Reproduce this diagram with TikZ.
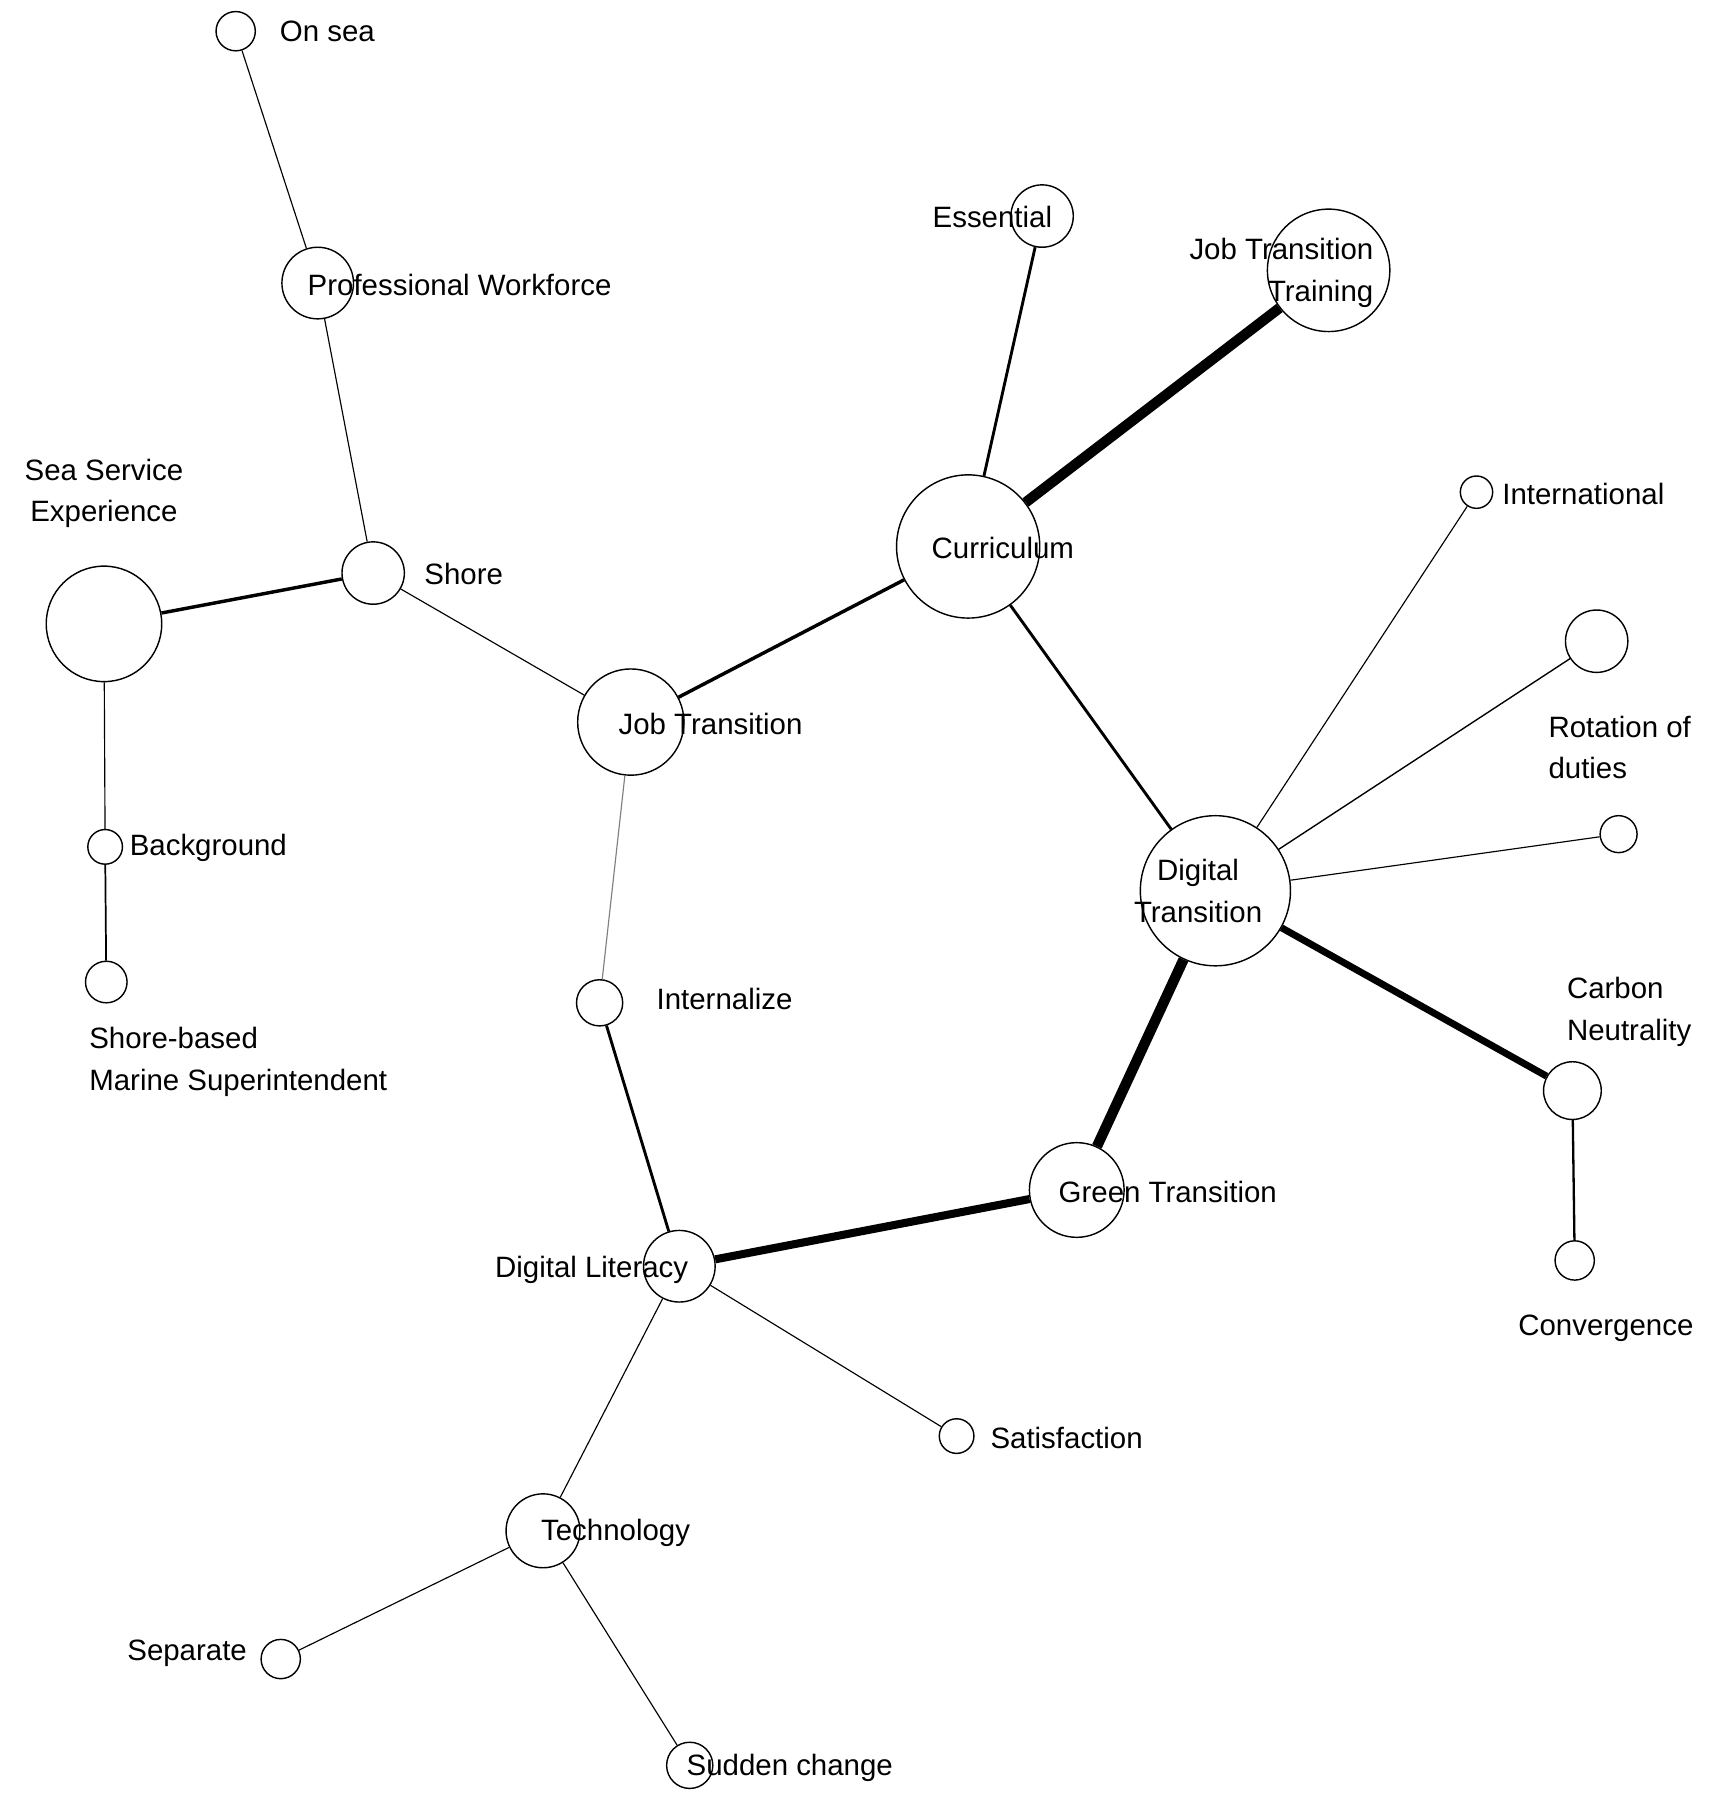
\documentclass[tikz,border=0pt]{standalone}
\usepackage{fontspec}
\setmainfont{Liberation Sans}
\begin{document}
\begin{tikzpicture}[x=0.02cm,y=-0.02cm,
  c/.style={circle,draw,line width=0.7pt,fill=white,inner sep=0pt,minimum size=#1*0.04cm},
  t/.style={inner sep=0pt,font=\fontsize{14.5}{20.5}\selectfont,align=left},
  e/.style={line width=#1*0.567pt}]
\useasboundingbox (0,0) rectangle (1500,1571);
% circles
\node[c=17] (onsea) at (204,27) {};
\node[c=31] (pw) at (275,245) {};
\node[c=50] (sse) at (90,540) {};
\node[c=27] (shore) at (323,496) {};
\node[c=15] (bg) at (91,733) {};
\node[c=18] (sb) at (92,850) {};
\node[c=46] (jt) at (546,625) {};
\node[c=62] (cur) at (838,473) {};
\node[c=27] (ess) at (902,187) {};
\node[c=53] (jtt) at (1150,234) {};
\node[c=14] (intl) at (1278,426) {};
\node[c=27] (rot) at (1382,555) {};
\node[c=16] (sm) at (1401,722) {};
\node[c=65] (dt) at (1052,771) {};
\node[c=25] (cn) at (1361,944) {};
\node[c=17] (conv) at (1363,1091) {};
\node[c=20] (int) at (519,868) {};
\node[c=41] (gt) at (932,1030) {};
\node[c=31] (dl) at (588,1096) {};
\node[c=15] (sat) at (828,1243) {};
\node[c=32] (tech) at (470,1325) {};
\node[c=17] (sep) at (243,1436) {};
\node[c=20] (sud) at (597,1528) {};
% edges
\begin{scope}[on background layer/.style={}]
\draw[e=1] (onsea) -- (pw);
\draw[e=1] (pw) -- (shore);
\draw[e=3] (sse) -- (shore);
\draw[e=1] (sse) -- (bg);
\draw[e=1.5] (bg) -- (sb);
\draw[e=1] (shore) -- (jt);
\draw[e=3] (jt) -- (cur);
\draw[e=1,gray] (jt) -- (int);
\draw[e=2.5] (int) -- (dl);
\draw[e=2.5] (cur) -- (ess);
\draw[e=9] (cur) -- (jtt);
\draw[e=2.5] (cur) -- (dt);
\draw[e=1] (dt) -- (intl);
\draw[e=1.2] (dt) -- (rot);
\draw[e=1] (dt) -- (sm);
\draw[e=6] (dt) -- (cn);
\draw[e=9] (dt) -- (gt);
\draw[e=2] (cn) -- (conv);
\draw[e=7] (gt) -- (dl);
\draw[e=1] (dl) -- (sat);
\draw[e=1] (dl) -- (tech);
\draw[e=1] (tech) -- (sep);
\draw[e=1] (tech) -- (sud);
\end{scope}
% labels
\node[t,anchor=west] (l1) at (242,27) {On sea};
\node[t,anchor=west] (l2) at (266,247) {Professional Workforce};
\node[t,align=center] (l3) at (90,427) {Sea Service\\Experience};
\node[t,anchor=west] (l4) at (367,497) {Shore};
\node[t,anchor=west] (l5) at (112,734) {Background};
\node[t,anchor=north west] (l6) at (77,889) {Shore-based\\Marine Superintendent};
\node[t] (l7) at (615,627) {Job Transition};
\node[t] (l8) at (868,474) {Curriculum};
\node[t,anchor=east] (l9) at (911,188) {Essential};
\node[t,align=right,anchor=east] (l10) at (1189,236) {Job Transition\\Training};
\node[t,anchor=west] (l11) at (1300,428) {International};
\node[t,anchor=west] (l12) at (1340,647) {Rotation of\\duties};
\node[t,align=center] (l13) at (1037,771) {Digital\\Transition};
\node[t,anchor=west] (l14) at (1356,876) {Carbon\\Neutrality};
\node[t] (l15) at (1390,1150) {Convergence};
\node[t,anchor=west] (l16) at (568,865) {Internalize};
\node[t,anchor=west] (l17) at (916,1032) {Green Transition};
\node[t,anchor=east] (l18) at (596,1099) {Digital Literacy};
\node[t,anchor=west] (l19) at (857,1245) {Satisfaction};
\node[t,anchor=west] (l20) at (468,1327) {Technology};
\node[t,anchor=east] (l21) at (214,1431) {Separate};
\node[t,anchor=west] (l22) at (594,1530) {Sudden change};
\end{tikzpicture}
\end{document}
